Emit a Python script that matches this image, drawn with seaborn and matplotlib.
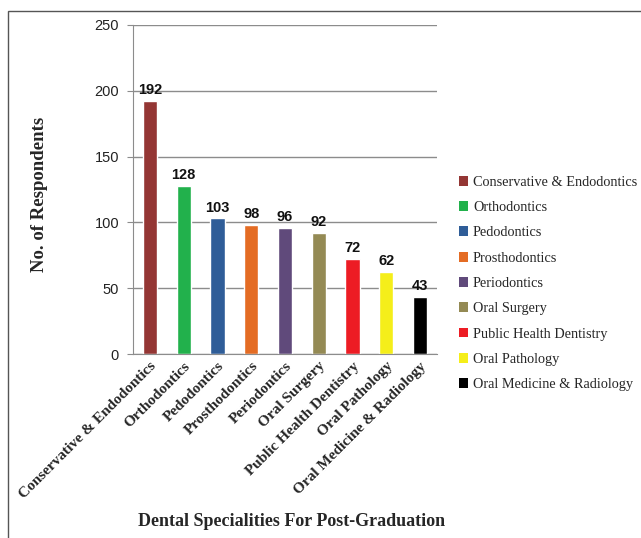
import pandas as pd
import matplotlib.pyplot as plt
import seaborn as sns
from matplotlib.patches import Patch, Rectangle

# data
specialities = ["Conservative & Endodontics", "Orthodontics", "Pedodontics",
                "Prosthodontics", "Periodontics", "Oral Surgery",
                "Public Health Dentistry", "Oral Pathology",
                "Oral Medicine & Radiology"]
respondents = [192, 128, 103, 98, 96, 92, 72, 62, 43]
bar_colors = ["#943634", "#22B14C", "#2F5D98", "#E46C24", "#604A7B",
              "#948A54", "#ED1C24", "#F5EE1A", "#000000"]

df = pd.DataFrame({"speciality": specialities, "respondents": respondents})

sns.set_style("white")
serif = ["Liberation Serif", "DejaVu Serif"]
sans = ["Liberation Sans", "DejaVu Sans"]

fig = plt.figure(figsize=(6.41, 5.38), dpi=100)
W, H = 641, 538
ax = fig.add_axes([133 / W, 1 - 354 / H, (437 - 133) / W, (354 - 25) / H])

sns.barplot(data=df, x="speciality", y="respondents", hue="speciality",
            palette=bar_colors, width=0.42, legend=False, ax=ax, saturation=1)

ax.set_ylim(0, 250)
ax.set_yticks(range(0, 251, 50))
ax.yaxis.grid(True, color="#8c8c8c", linewidth=1)
ax.set_axisbelow(True)
for s in ["top", "right"]:
    ax.spines[s].set_visible(False)
for s in ["left", "bottom"]:
    ax.spines[s].set_color("#8c8c8c")
ax.tick_params(axis="y", length=4, color="#8c8c8c", labelsize=10.5, pad=6, left=True)
ax.tick_params(axis="x", length=0, pad=4)
for t in ax.get_yticklabels():
    t.set_family(sans)
    t.set_color("#222222")

ax.set_xticks(range(len(specialities)))
ax.set_xticklabels(specialities, rotation=45, ha="right", rotation_mode="anchor",
                   family=serif, fontweight="bold", fontsize=11)

for i, v in enumerate(respondents):
    ax.text(i, v + 3, str(v), ha="center", va="bottom", fontsize=10.5,
            fontweight="bold", family=sans, color="#111111")

ax.set_xlabel("")
ax.set_ylabel("")
fig.text(40 / W, 1 - 194 / H, "No. of Respondents", rotation=90, ha="center",
         va="center", fontsize=13.5, fontweight="bold", family=serif)
fig.text(292 / W, 1 - 522 / H, "Dental Specialities For Post-Graduation",
         ha="center", va="center", fontsize=13, fontweight="bold", family=serif)

handles = [Patch(facecolor=c, edgecolor="none") for c in bar_colors]
fig.legend(handles, specialities, loc="upper left",
           bbox_to_anchor=(453 / W, 1 - 170 / H), frameon=False,
           prop={"family": serif, "size": 10.3}, handlelength=0.68,
           handleheight=0.68, handletextpad=0.32, labelspacing=0.86,
           borderaxespad=0)

# outer frame of the original figure (right and bottom cut off)
fig.add_artist(Rectangle((8 / W, -0.05), 1.2, 1 - 11 / H + 0.05,
                         transform=fig.transFigure, fill=False,
                         edgecolor="#555555", linewidth=1))

fig.savefig("out.png", dpi=100)
